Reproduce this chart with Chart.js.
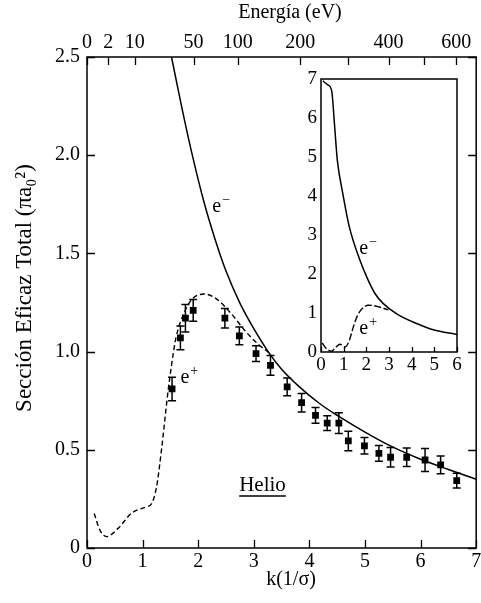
<!DOCTYPE html>
<html>
<head>
<meta charset="utf-8">
<script src="https://cdn.jsdelivr.net/npm/chart.js@4.4.1/dist/chart.umd.min.js"></script>
<style>
  body { margin: 0; background: #fff; }
  #wrap { position: relative; width: 481px; height: 603px; }
  #mainChart { position: absolute; left: 0; top: 0; }
  #insetChart { position: absolute; left: 290px; top: 66px; }
</style>
</head>
<body>
<div id="wrap">
  <canvas id="mainChart" width="481" height="603"></canvas>
  <canvas id="insetChart" width="175" height="310"></canvas>
</div>
<script>
const serif = "'Liberation Serif', 'DejaVu Serif', serif";
Chart.defaults.font.family = serif;
Chart.defaults.color = '#000';

// curva e- (panel principal)
const eMinusK = [1.52, 1.70, 1.87, 2.11, 2.30, 2.50, 2.75, 3.00, 3.27, 3.50, 3.81, 4.20, 4.53, 5.00, 5.42, 6.00, 6.50, 7.00];
const eMinusS = [2.50, 2.25, 2.03, 1.755, 1.575, 1.41, 1.247, 1.117, 0.995, 0.91, 0.823, 0.732, 0.67, 0.59, 0.525, 0.452, 0.40, 0.35];

// curva e+ (panel principal, discontinua)
const ePlusK = [0.13, 0.23, 0.35, 0.56, 0.80, 1.07, 1.16, 1.25, 1.34, 1.45, 1.52, 1.60, 1.75, 1.90, 2.11, 2.32, 2.59, 2.86, 3.09, 3.27];
const ePlusS = [0.176, 0.092, 0.058, 0.10, 0.177, 0.21, 0.225, 0.31, 0.50, 0.78, 0.93, 1.07, 1.20, 1.27, 1.293, 1.27, 1.195, 1.10, 1.035, 0.995];

// medidas experimentales
const dataK = [1.53, 1.68, 1.77, 1.91, 2.48, 2.74, 3.04, 3.30, 3.60, 3.86, 4.11, 4.32, 4.53, 4.70, 4.99, 5.25, 5.46, 5.75, 6.08, 6.36, 6.65];
const dataS = [0.81, 1.07, 1.17, 1.21, 1.17, 1.08, 0.99, 0.93, 0.82, 0.74, 0.675, 0.636, 0.636, 0.545, 0.52, 0.482, 0.462, 0.462, 0.448, 0.423, 0.343];
const dataErr = [0.06, 0.06, 0.07, 0.055, 0.05, 0.045, 0.04, 0.05, 0.045, 0.047, 0.04, 0.038, 0.053, 0.05, 0.042, 0.04, 0.05, 0.047, 0.058, 0.045, 0.038];

// eje superior de energía
const energyTicks = [0, 2, 10, 50, 100, 200, 300, 400, 500, 600];
const energyLabels = ['0', '2', '10', '50', '100', '200', '', '400', '', '600'];

// recuadro
const insetMinusK = [0.08, 0.30, 0.47, 0.60, 0.72, 0.96, 1.25, 1.72, 2.02, 2.38, 2.75, 3.34, 4.22, 4.95, 6.00];
const insetMinusS = [6.95, 6.85, 6.70, 5.80, 4.92, 4.07, 3.21, 2.35, 1.92, 1.50, 1.24, 0.98, 0.73, 0.57, 0.45];
const insetPlusK = [0.05, 0.25, 0.47, 0.65, 0.84, 1.06, 1.25, 1.43, 1.60, 1.80, 2.09, 2.40, 2.97];
const insetPlusS = [0.23, 0.08, 0.02, 0.12, 0.20, 0.13, 0.30, 0.65, 0.92, 1.10, 1.20, 1.18, 1.08];

const pts = (xs, ys) => xs.map((x, i) => ({ x: x, y: ys[i] }));

function fixBox(w, h) {
    return s => {
        if (w !== null) s.width = w;
        if (h !== null) s.height = h;
        s.paddingLeft = 0; s.paddingRight = 0; s.paddingTop = 0; s.paddingBottom = 0;
    };
}

// marco y marcas hacia dentro
function frameTicks(len, sides) {
    return {
        id: 'frameTicks',
        afterDraw(chart) {
            const { ctx, chartArea: a, scales } = chart;
            ctx.save();
            ctx.strokeStyle = '#000';
            ctx.lineWidth = 1.5;
            ctx.strokeRect(a.left, a.top, a.right - a.left, a.bottom - a.top);
            ctx.lineWidth = 1.3;
            ctx.beginPath();
            sides.forEach(([id, edge]) => {
                const sc = scales[id];
                sc.ticks.forEach(t => {
                    const p = Math.round(sc.getPixelForValue(t.value)) + 0.5;
                    if (edge === 'bottom') { ctx.moveTo(p, a.bottom); ctx.lineTo(p, a.bottom - len); }
                    if (edge === 'top') { ctx.moveTo(p, a.top); ctx.lineTo(p, a.top + len); }
                    if (edge === 'left') { ctx.moveTo(a.left, p); ctx.lineTo(a.left + len, p); }
                    if (edge === 'right') { ctx.moveTo(a.right, p); ctx.lineTo(a.right - len, p); }
                });
            });
            ctx.stroke();
            ctx.restore();
        }
    };
}

// barras de error
const errorBars = {
    id: 'errorBars',
    afterDatasetsDraw(chart) {
        const { ctx, scales: { x, y } } = chart;
        ctx.save();
        ctx.strokeStyle = '#000';
        ctx.lineWidth = 1.5;
        ctx.beginPath();
        dataK.forEach((k, i) => {
            const px = x.getPixelForValue(k);
            const top = y.getPixelForValue(dataS[i] + dataErr[i]);
            const bot = y.getPixelForValue(dataS[i] - dataErr[i]);
            ctx.moveTo(px, top); ctx.lineTo(px, bot);
            ctx.moveTo(px - 4, top); ctx.lineTo(px + 4, top);
            ctx.moveTo(px - 4, bot); ctx.lineTo(px + 4, bot);
        });
        ctx.stroke();
        ctx.restore();
    }
};

function drawCharge(ctx, px, py, sign, size) {
    ctx.font = size + 'px ' + serif;
    ctx.textAlign = 'left';
    ctx.textBaseline = 'alphabetic';
    ctx.fillText('e', px, py);
    const w = ctx.measureText('e').width;
    ctx.font = Math.round(size * 0.7) + 'px ' + serif;
    ctx.fillText(sign, px + w + 1, py - 8);
}

// rótulos de texto
function textLabels(charges, helio, titles) {
    return {
        id: 'textLabels',
        afterDraw(chart) {
            const { ctx, scales: { x, y } } = chart;
            ctx.save();
            ctx.fillStyle = '#000';
            ctx.strokeStyle = '#000';
            charges.forEach(c => drawCharge(ctx, x.getPixelForValue(c.k), y.getPixelForValue(c.s), c.sign, 20));
            if (helio) {
                const hx = x.getPixelForValue(helio.k);
                const hy = y.getPixelForValue(helio.s);
                ctx.font = '21px ' + serif;
                ctx.textAlign = 'left';
                ctx.textBaseline = 'alphabetic';
                ctx.fillText('Helio', hx, hy);
                const w = ctx.measureText('Helio').width;
                ctx.lineWidth = 1.4;
                ctx.beginPath();
                ctx.moveTo(hx, hy + 5); ctx.lineTo(hx + w, hy + 5);
                ctx.stroke();
            }
            if (titles) {
                ctx.textAlign = 'center';
                ctx.textBaseline = 'middle';
                ctx.font = '20px ' + serif;
                ctx.fillText('Energía (eV)', 290, 13);
                ctx.fillText('k(1/σ)', 291, 580);
                ctx.translate(25, 288);
                ctx.rotate(-Math.PI / 2);
                ctx.font = '23px ' + serif;
                ctx.fillText('Sección Eficaz Total (πa₀²)', 0, 0);
            }
            ctx.restore();
        }
    };
}

const axisBase = {
    type: 'linear',
    grid: { display: false, drawTicks: false },
    border: { display: false }
};

new Chart(document.getElementById('mainChart'), {
    type: 'scatter',
    data: {
        datasets: [
            {
                label: 'e-',
                data: pts(eMinusK, eMinusS),
                showLine: true,
                borderColor: '#000',
                borderWidth: 1.5,
                pointRadius: 0,
                cubicInterpolationMode: 'monotone'
            },
            {
                label: 'e+',
                data: pts(ePlusK, ePlusS),
                showLine: true,
                borderColor: '#000',
                borderWidth: 1.4,
                borderDash: [5, 3],
                pointRadius: 0,
                cubicInterpolationMode: 'monotone'
            },
            {
                label: 'Medidas',
                data: pts(dataK, dataS),
                showLine: false,
                pointStyle: 'rect',
                pointRadius: 4.8,
                borderWidth: 0,
                backgroundColor: '#000'
            }
        ]
    },
    options: {
        responsive: false,
        animation: false,
        events: [],
        layout: { padding: { left: 0, right: 3, top: 0, bottom: 0 } },
        scales: {
            x: {
                ...axisBase,
                position: 'bottom',
                min: 0,
                max: 7,
                ticks: { stepSize: 1, padding: 2, font: { size: 20 }, maxRotation: 0, minRotation: 0, autoSkip: false },
                afterFit: fixBox(null, 55)
            },
            x2: {
                ...axisBase,
                position: 'top',
                min: 0,
                max: 7,
                afterBuildTicks: s => { s.ticks = energyTicks.map(e => ({ value: Math.sqrt(e / 13.6) })); },
                ticks: { padding: 2, font: { size: 20 }, maxRotation: 0, minRotation: 0, autoSkip: false,
                    callback: (v, i) => energyLabels[i] },
                afterFit: fixBox(null, 57)
            },
            y: {
                ...axisBase,
                min: 0,
                max: 2.5,
                ticks: { stepSize: 0.5, padding: 7, font: { size: 20 },
                    callback: v => v === 0 ? '0' : v.toFixed(1) },
                afterFit: fixBox(87, null)
            }
        },
        plugins: {
            legend: { display: false },
            tooltip: { enabled: false }
        }
    },
    plugins: [
        frameTicks(8, [['x', 'bottom'], ['x2', 'top'], ['y', 'left'], ['y', 'right']]),
        errorBars,
        textLabels([{ k: 2.254, s: 1.711, sign: '−' }, { k: 1.68, s: 0.84, sign: '+' }], { k: 2.737, s: 0.29 }, true)
    ]
});

new Chart(document.getElementById('insetChart'), {
    type: 'scatter',
    data: {
        datasets: [
            {
                label: 'e-',
                data: pts(insetMinusK, insetMinusS),
                showLine: true,
                borderColor: '#000',
                borderWidth: 1.5,
                pointRadius: 0,
                cubicInterpolationMode: 'monotone'
            },
            {
                label: 'e+',
                data: pts(insetPlusK, insetPlusS),
                showLine: true,
                borderColor: '#000',
                borderWidth: 1.4,
                borderDash: [7, 2.5],
                pointRadius: 0,
                cubicInterpolationMode: 'monotone'
            }
        ]
    },
    options: {
        responsive: false,
        animation: false,
        events: [],
        layout: { padding: { left: 0, right: 8, top: 13, bottom: 0 } },
        scales: {
            x: {
                ...axisBase,
                min: 0,
                max: 6,
                ticks: { stepSize: 1, padding: 2, font: { size: 19 }, maxRotation: 0, minRotation: 0, autoSkip: false },
                afterFit: fixBox(null, 24)
            },
            y: {
                ...axisBase,
                min: 0,
                max: 7,
                ticks: { stepSize: 1, padding: 4, font: { size: 19 } },
                afterFit: fixBox(31, null)
            }
        },
        plugins: {
            legend: { display: false },
            tooltip: { enabled: false }
        }
    },
    plugins: [
        frameTicks(5, [['x', 'bottom']]),
        textLabels([{ k: 1.69, s: 2.52, sign: '−' }, { k: 1.69, s: 0.45, sign: '+' }], null, false)
    ]
});
</script>
</body>
</html>
